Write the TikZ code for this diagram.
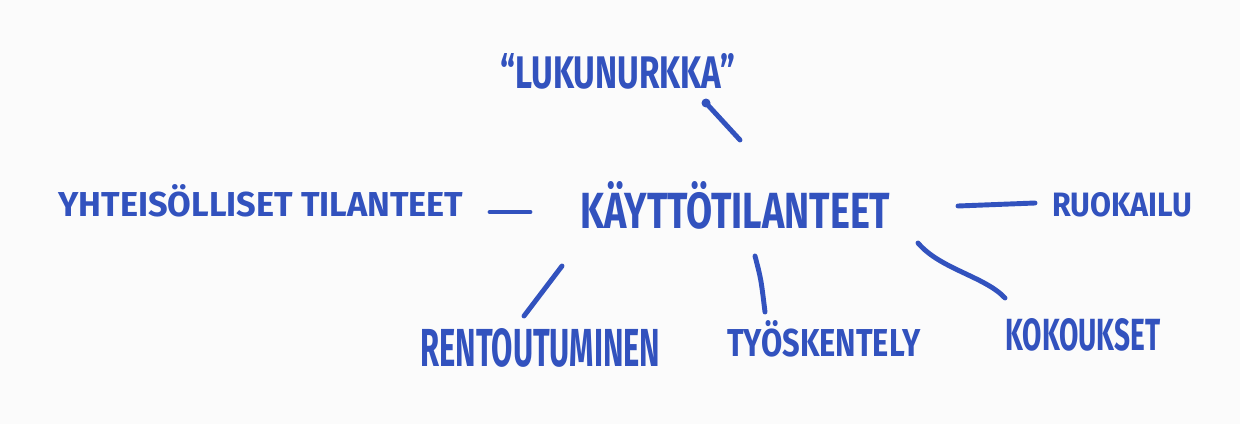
\documentclass[tikz,border=0pt]{standalone}
\usepackage{fontspec}
\setmainfont{Fira Sans}
\usepackage{graphicx}
\definecolor{marker}{RGB}{50,82,190}
\definecolor{paper}{RGB}{251,251,251}
\newcommand{\hw}[3]{\resizebox{#1}{#2}{#3}}
\tikzset{
  lbl/.style={anchor=south west, inner sep=0pt, text=marker, font=\bfseries},
  stroke/.style={draw=marker, line width=2.8pt, line cap=round},
}
\begin{document}
\begin{tikzpicture}
\fill[paper] (0,0) rectangle (24.8,8.48);
\useasboundingbox (0,0) rectangle (24.8,8.48);

\node[lbl] (luk) at (10.0,6.68) {\hw{4.7cm}{0.7cm}{``LUKUNURKKA''}};
\node[lbl] (kay) at (11.6,3.88) {\hw{6.2cm}{0.94cm}{KÄYTTÖTILANTEET}};
\node[lbl] (yht) at (1.16,4.14) {\hw{8.1cm}{0.64cm}{YHTEISÖLLISET TILANTEET}};
\node[lbl] (ruo) at (21.04,4.14) {\hw{2.8cm}{0.48cm}{RUOKAILU}};
\node[lbl] (ren) at (8.4,1.12) {\hw{4.8cm}{0.76cm}{RENTOUTUMINEN}};
\node[lbl] (tyo) at (14.54,1.32) {\hw{3.86cm}{0.72cm}{TYÖSKENTELY}};
\node[lbl] (kok) at (20.1,1.44) {\hw{3.1cm}{0.64cm}{KOKOUKSET}};

\coordinate (luka) at (14.12,6.42);
\coordinate (lukb) at (14.8,5.68);
\coordinate (yhta) at (9.8,4.24);
\coordinate (yhtb) at (10.6,4.24);
\coordinate (ruoa) at (19.16,4.36);
\coordinate (ruob) at (20.7,4.42);
\coordinate (rena) at (11.24,3.16);
\coordinate (renb) at (10.48,2.16);
\coordinate (tyoa) at (15.1,3.36);
\coordinate (tyob) at (15.3,2.24);
\coordinate (koka) at (18.36,3.62);
\coordinate (kokb) at (20.1,2.52);

\draw[stroke] (luka) -- (lukb);
\fill[marker] (luka) circle (0.09);
\draw[stroke] (yhta) -- (yhtb);
\draw[stroke] (ruoa) -- (ruob);
\draw[stroke] (rena) -- (renb);
\draw[stroke] (tyoa) .. controls (15.22,2.9) .. (tyob);
\draw[stroke] (koka) .. controls (18.8,3.1) and (19.7,2.95) .. (kokb);
\end{tikzpicture}
\end{document}
